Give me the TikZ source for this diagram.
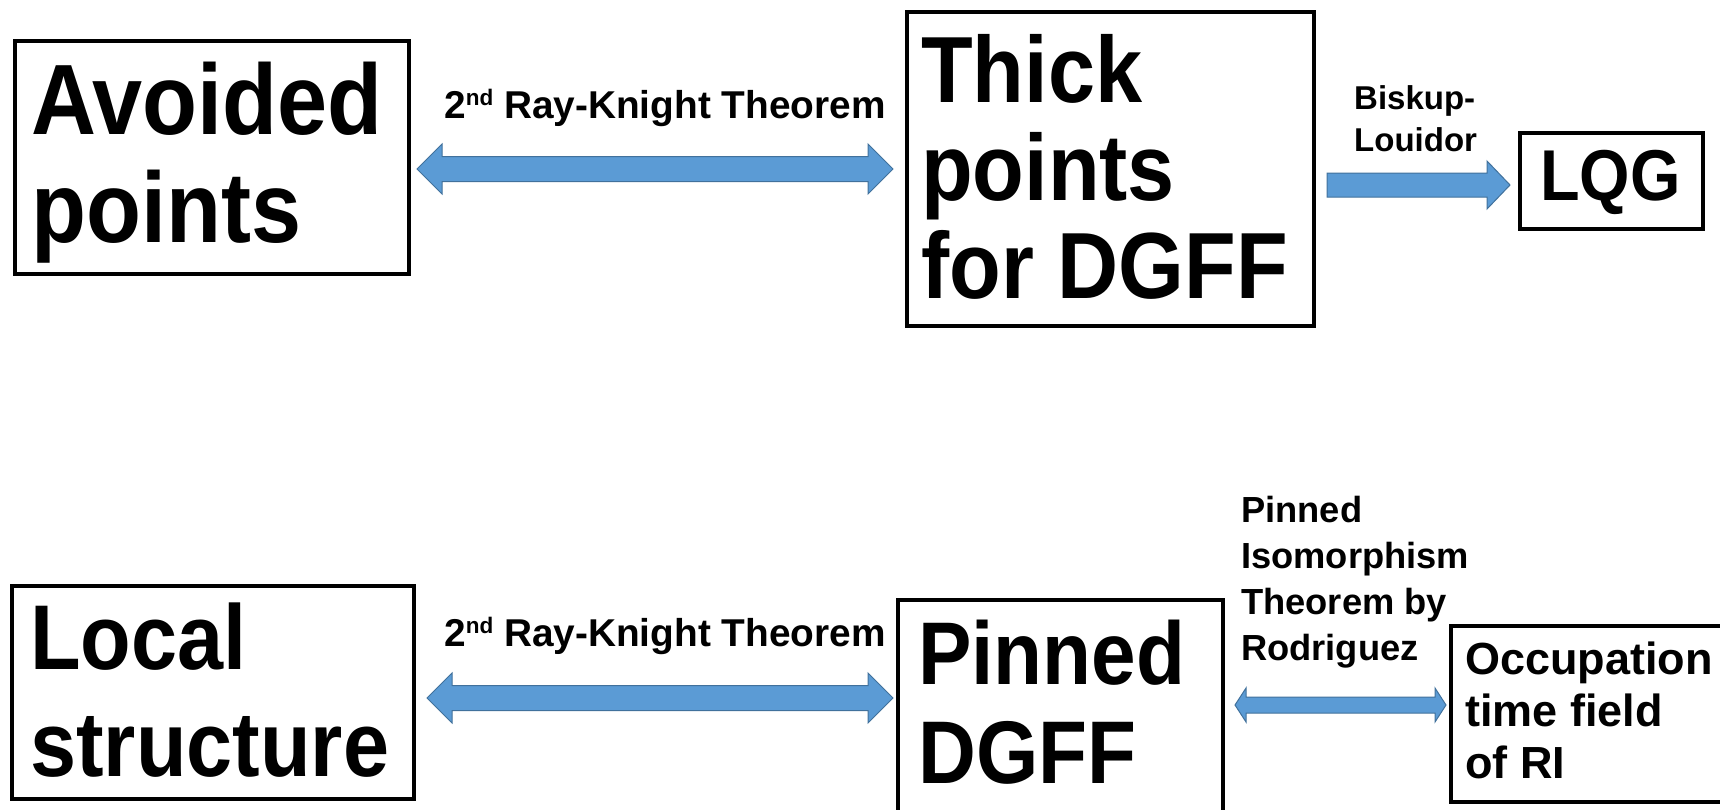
\documentclass[tikz,border=0pt]{standalone}
\usepackage{fontspec}
\setmainfont{Liberation Sans}
\newfontfamily\condfont{Liberation Sans}[FakeStretch=0.9]
\usetikzlibrary{calc}
\definecolor{arrowfill}{HTML}{5B9BD5}
\definecolor{arrowedge}{HTML}{41719C}

% raised ordinal suffix, sized for the labels
\newcommand{\ordsup}[1]{\raisebox{0.32em}{\fontsize{22.5}{22.5}\selectfont #1}}

% horizontal block arrows between two named coordinates
% #1 start, #2 end, #3 shaft half-width, #4 head half-width, #5 head length
\newcommand{\blockdouble}[5]{%
  \path[blockarrow] let \p1=(#1), \p2=(#2) in
    (\x1,\y1) -- (\x1+#5pt,\y1+#4pt) -- (\x1+#5pt,\y1+#3pt)
    -- (\x2-#5pt,\y2+#3pt) -- (\x2-#5pt,\y2+#4pt) -- (\x2,\y2)
    -- (\x2-#5pt,\y2-#4pt) -- (\x2-#5pt,\y2-#3pt)
    -- (\x1+#5pt,\y1-#3pt) -- (\x1+#5pt,\y1-#4pt) -- cycle;}
\newcommand{\blocksingle}[5]{%
  \path[blockarrow] let \p1=(#1), \p2=(#2) in
    (\x1,\y1+#3pt) -- (\x2-#5pt,\y2+#3pt) -- (\x2-#5pt,\y2+#4pt) -- (\x2,\y2)
    -- (\x2-#5pt,\y2-#4pt) -- (\x2-#5pt,\y2-#3pt) -- (\x1,\y1-#3pt) -- cycle;}

\begin{document}
\begin{tikzpicture}[x=1pt,y=-1pt,
  box/.style={draw=black, line width=3.5pt, outer sep=0pt, inner sep=0pt, anchor=north west},
  bigtxt/.style n args={2}{inner sep=0pt, align=left, anchor=north west,
    font=\condfont\bfseries\fontsize{#1}{#2}\selectfont},
  labeltxt/.style n args={2}{inner sep=0pt, align=left,
    font=\bfseries\fontsize{#1}{#2}\selectfont},
  blockarrow/.style={fill=arrowfill, draw=arrowedge, line width=1pt, line join=miter}]
\useasboundingbox (0,0) rectangle (1720,809);
\clip (0,0) rectangle (1720,809);

% frames
\node[box, minimum width=394pt, minimum height=233pt] (avoided) at (15,41) {};
\node[box, minimum width=407pt, minimum height=314pt] (thick) at (907,12) {};
\node[box, minimum width=183pt, minimum height=96pt] (lqg) at (1520,133) {};
\node[box, minimum width=402pt, minimum height=213pt] (local) at (12,586) {};
\node[box, minimum width=325pt, minimum height=250pt] (pinned) at (898,600) {};
\node[box, minimum width=300pt, minimum height=176pt] (occup) at (1451,626) {};

% frame texts
\node[bigtxt={100}{108}] (avoidedtxt) at (31,62) {Avoided\\points};
\node[bigtxt={94}{98}] (thicktxt) at (921,34) {Thick\\points\\for DGFF};
\node[bigtxt={72}{80}] (lqgtxt) at (1540,150) {LQG};
\node[bigtxt={92}{107}] (localtxt) at (30,603) {Local\\structure};
\node[bigtxt={89}{99}] (pinnedtxt) at (918,620) {Pinned\\DGFF};
\node[labeltxt={45}{52}, anchor=north west] (occuptxt) at (1465,642) {Occupation\\time field\\of RI};

% connector labels
\node[labeltxt={38.8}{46}, anchor=base west] (rkAlabel) at (444,118) {2\ordsup{nd} Ray-Knight Theorem};
\node[labeltxt={38.8}{46}, anchor=base west] (rkBlabel) at (444,646) {2\ordsup{nd} Ray-Knight Theorem};
\node[labeltxt={33}{42}, anchor=north west] (bllabel) at (1354,85) {Biskup-\\Louidor};
\node[labeltxt={36.3}{46}, anchor=north west] (isolabel) at (1241,496) {Pinned\\Isomorphism\\Theorem by\\Rodriguez};

% connector end points
\coordinate (rkAs) at ($(avoided.east |- thick.west)+(8,0)$);
\coordinate (rkAe) at ($(thick.west)+(-14,0)$);
\coordinate (rkBs) at ($(local.east)+(13,5.5)$);
\coordinate (rkBe) at ($(pinned.west |- rkBs)+(-5,0)$);
\coordinate (blS) at ($(thick.east |- lqg.west)+(13,4)$);
\coordinate (blE) at ($(lqg.west)+(-10,4)$);
\coordinate (isoS) at ($(pinned.east |- occup.west)+(12,-9)$);
\coordinate (isoE) at ($(occup.west)+(-5,-9)$);

% connectors
\blockdouble{rkAs}{rkAe}{12.5}{25}{25}
\blockdouble{rkBs}{rkBe}{12.5}{25}{25}
\blocksingle{blS}{blE}{12}{24}{23}
\blockdouble{isoS}{isoE}{8}{17}{11}
\end{tikzpicture}
\end{document}
